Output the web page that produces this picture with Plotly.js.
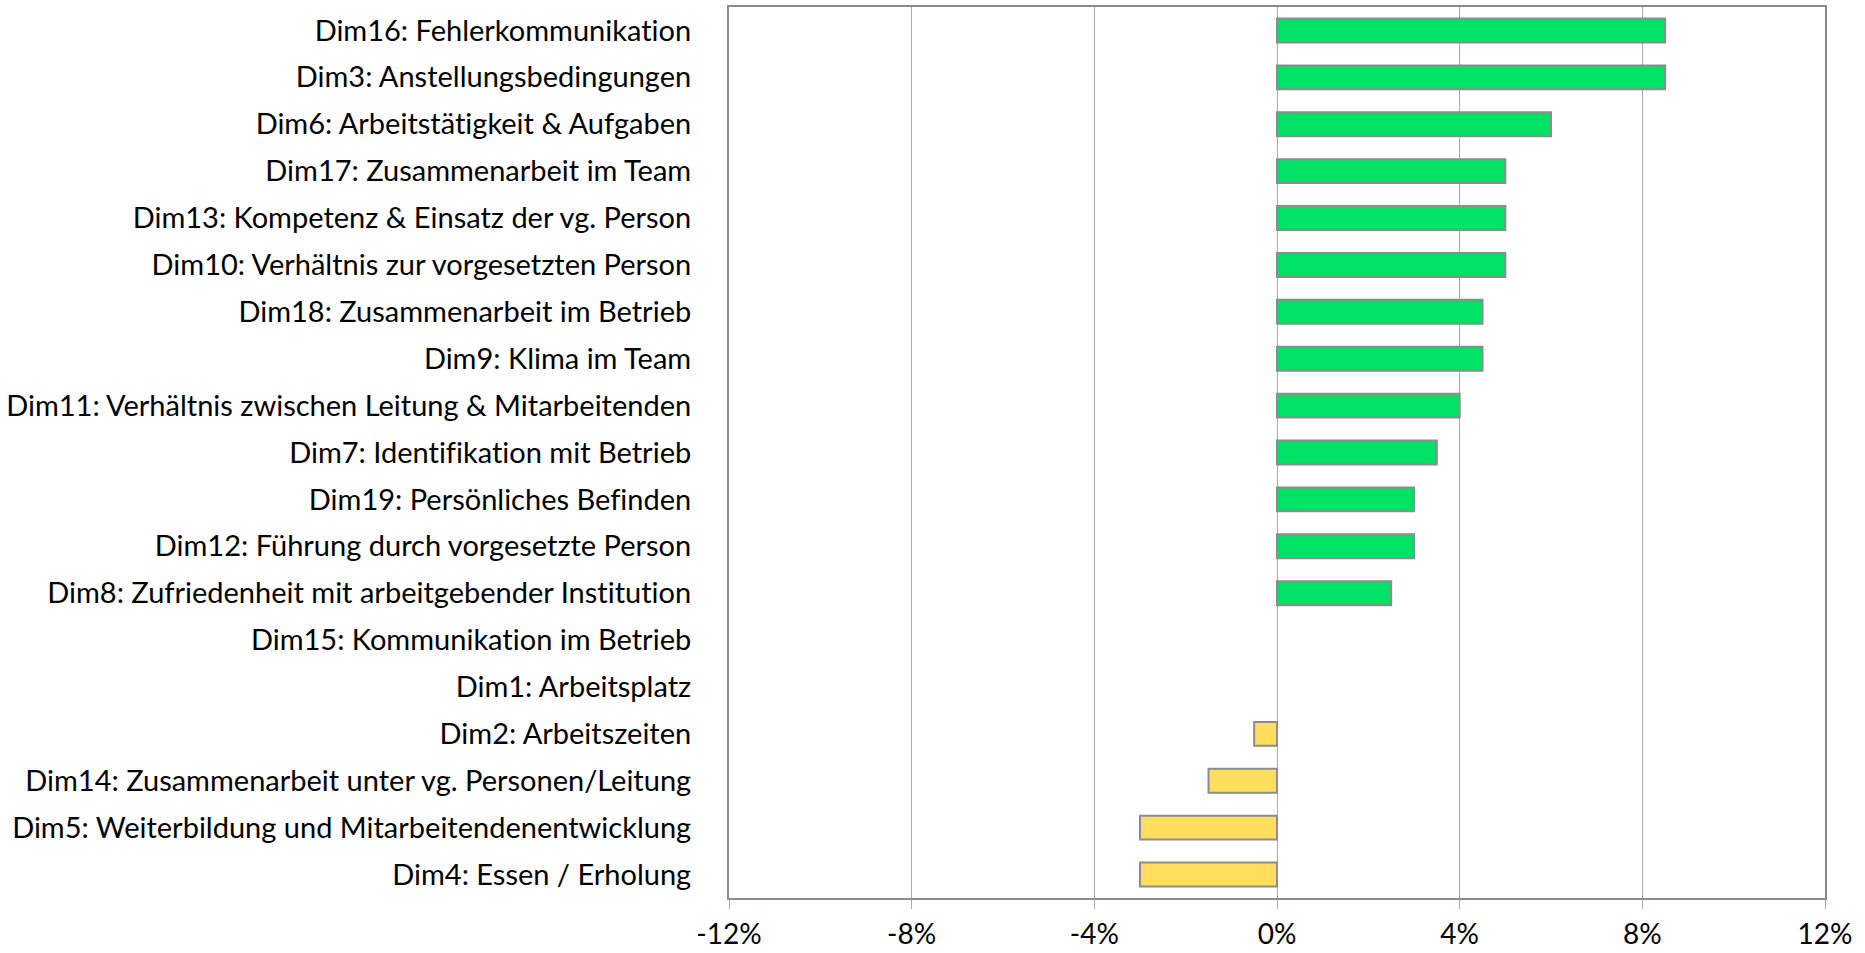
<!DOCTYPE html>
<html>
<head>
<meta charset="utf-8">
<script src="https://cdn.plot.ly/plotly-3.0.1.min.js"></script>
<style>html,body{margin:0;padding:0;background:#fff}#chart{width:1865px;height:953px}
.main-svg text{font-variant-ligatures:none;font-feature-settings:"liga" 0}</style>
</head>
<body>
<div id="chart"></div>
<script>
const categories = [
  "Dim16: Fehlerkommunikation",
  "Dim3: Anstellungsbedingungen",
  "Dim6: Arbeitstätigkeit & Aufgaben",
  "Dim17: Zusammenarbeit im Team",
  "Dim13: Kompetenz & Einsatz der vg. Person",
  "Dim10: Verhältnis zur vorgesetzten Person",
  "Dim18: Zusammenarbeit im Betrieb",
  "Dim9: Klima im Team",
  "Dim11: Verhältnis zwischen Leitung & Mitarbeitenden",
  "Dim7: Identifikation mit Betrieb",
  "Dim19: Persönliches Befinden",
  "Dim12: Führung durch vorgesetzte Person",
  "Dim8: Zufriedenheit mit arbeitgebender Institution",
  "Dim15: Kommunikation im Betrieb",
  "Dim1: Arbeitsplatz",
  "Dim2: Arbeitszeiten",
  "Dim14: Zusammenarbeit unter vg. Personen/Leitung",
  "Dim5: Weiterbildung und Mitarbeitendenentwicklung",
  "Dim4: Essen / Erholung"
];
const values = [0.085, 0.085, 0.06, 0.05, 0.05, 0.05, 0.045, 0.045, 0.04, 0.035, 0.03, 0.03, 0.025, 0, 0, -0.005, -0.015, -0.03, -0.03];
const tickVals = [-0.12, -0.08, -0.04, 0, 0.04, 0.08, 0.12];
const tickText = ["-12%", "-8%", "-4%", "0%", "4%", "8%", "12%"];
const posColor = "#00E266";
const negColor = "#FFDF5B";

const colors = values.map(v => v >= 0 ? posColor : negColor);
const lineWidths = values.map(v => v === 0 ? 0 : 2);
const font = "Lato, 'Open Sans', sans-serif";

Plotly.newPlot("chart", [{
  type: "bar",
  orientation: "h",
  y: categories,
  x: values,
  marker: {color: colors, line: {color: "#8C8C8C", width: lineWidths}},
  hoverinfo: "x+y"
}], {
  width: 1865, height: 953,
  margin: {l: 729, r: 40, t: 7, b: 55},
  paper_bgcolor: "#fff", plot_bgcolor: "#fff",
  bargap: 0.49,
  showlegend: false,
  font: {family: font, size: 29, color: "#000"},
  xaxis: {
    range: [-0.12, 0.12],
    tickvals: tickVals, ticktext: tickText,
    showgrid: true, gridcolor: "#ABABAB", gridwidth: 1,
    zeroline: true, zerolinecolor: "#ABABAB", zerolinewidth: 1,
    showline: true, mirror: true, linecolor: "#8C8C8C", linewidth: 2,
    ticks: "outside", ticklen: 9, tickcolor: "#ABABAB", tickwidth: 1,
    ticklabelstandoff: 1,
    tickfont: {family: font, size: 28, color: "#000"},
    fixedrange: true
  },
  yaxis: {
    type: "category",
    autorange: false,
    range: [categories.length - 0.5, -0.5],
    showgrid: false, zeroline: false,
    showline: true, mirror: true, linecolor: "#8C8C8C", linewidth: 2,
    ticks: "", ticklabelstandoff: 30,
    tickfont: {family: font, size: 29, color: "#000"},
    fixedrange: true
  }
}, {displayModeBar: false});
</script>
</body>
</html>
